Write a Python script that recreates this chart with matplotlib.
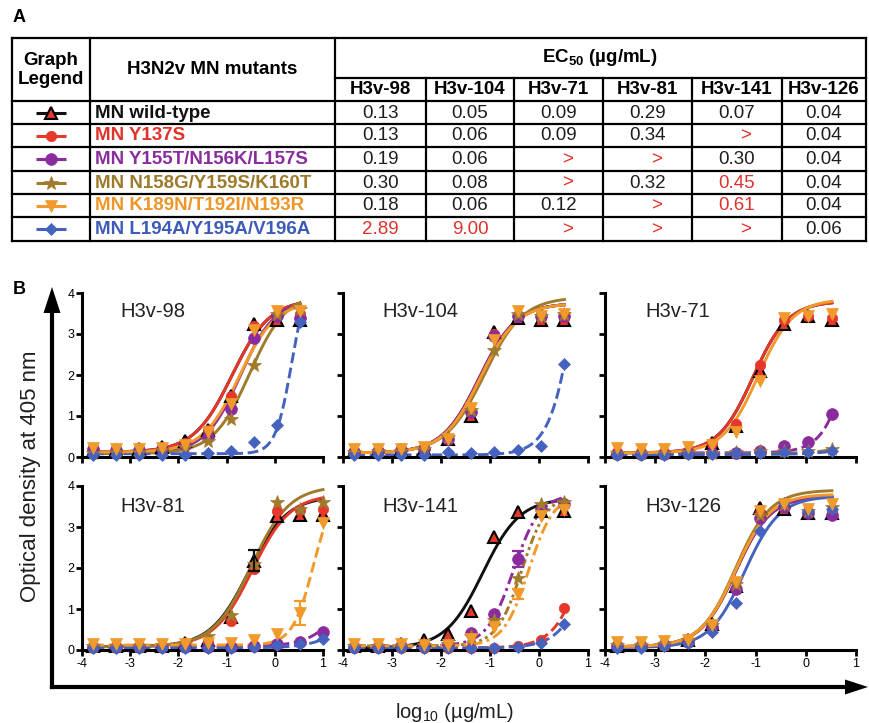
import numpy as np
import matplotlib.pyplot as plt

plt.rcParams['font.family'] = ['Liberation Sans', 'DejaVu Sans']
plt.rcParams['mathtext.fontset'] = 'custom'
plt.rcParams['mathtext.rm'] = 'Liberation Sans'
plt.rcParams['mathtext.bf'] = 'Liberation Sans:bold'
plt.rcParams['axes.unicode_minus'] = False

# ---- panel A : EC50 table ----
mutants = ['MN wild-type', 'MN Y137S', 'MN Y155T/N156K/L157S',
           'MN N158G/Y159S/K160T', 'MN K189N/T192I/N193R', 'MN L194A/Y195A/V196A']
antibodies = ['H3v-98', 'H3v-104', 'H3v-71', 'H3v-81', 'H3v-141', 'H3v-126']
ec50_text = [
    ['0.13', '0.05', '0.09', '0.29', '0.07', '0.04'],
    ['0.13', '0.06', '0.09', '0.34', '>', '0.04'],
    ['0.19', '0.06', '>', '>', '0.30', '0.04'],
    ['0.30', '0.08', '>', '0.32', '0.45', '0.04'],
    ['0.18', '0.06', '0.12', '>', '0.61', '0.04'],
    ['2.89', '9.00', '>', '>', '>', '0.06'],
]
ec50_flagged = [(3, 4), (4, 4), (5, 0), (5, 1)]

# ---- panel B : binding data (log10 ug/mL vs OD405) ----
logc = [-3.77, -3.29, -2.82, -2.34, -1.86, -1.39, -0.91, -0.43, 0.05, 0.52]
logc_81 = [-3.77, -3.29, -2.82, -2.34, -1.86, -1.39, -0.91, -0.43, 0.05, 0.52, 1.0]

# rows: wild-type, Y137S, Y155T.., N158G.., K189N.., L194A..
od_98 = [
    [0.15, 0.18, 0.20, 0.25, 0.40, 0.65, 1.50, 3.25, 3.35, 3.35],
    [0.15, 0.17, 0.18, 0.22, 0.35, 0.65, 1.50, 3.20, 3.45, 3.50],
    [0.20, 0.17, 0.18, 0.20, 0.30, 0.50, 1.18, 2.90, 3.45, 3.40],
    [0.10, 0.12, 0.13, 0.17, 0.25, 0.40, 0.93, 2.25, 3.50, 3.60],
    [0.22, 0.20, 0.20, 0.22, 0.30, 0.60, 1.30, 3.10, 3.55, 3.55],
    [0.05, 0.05, 0.04, 0.05, 0.06, 0.10, 0.14, 0.37, 0.77, 3.30],
]
od_104 = [
    [0.15, 0.15, 0.17, 0.20, 0.45, 1.00, 3.05, 3.40, 3.35, 3.35],
    [0.15, 0.15, 0.17, 0.20, 0.45, 1.10, 3.00, 3.45, 3.40, 3.40],
    [0.12, 0.15, 0.17, 0.20, 0.45, 1.10, 2.95, 3.45, 3.45, 3.45],
    [0.12, 0.14, 0.15, 0.20, 0.50, 1.15, 2.60, 3.50, 3.45, 3.50],
    [0.20, 0.20, 0.20, 0.25, 0.45, 1.20, 2.85, 3.55, 3.45, 3.50],
    [0.04, 0.04, 0.05, 0.05, 0.12, 0.10, 0.12, 0.18, 0.26, 2.28],
]
od_71 = [
    [0.15, 0.12, 0.12, 0.15, 0.33, 0.75, 2.10, 3.25, 3.45, 3.35],
    [0.12, 0.12, 0.12, 0.15, 0.35, 0.80, 2.25, 3.35, 3.45, 3.40],
    [0.08, 0.08, 0.08, 0.10, 0.10, 0.10, 0.15, 0.26, 0.37, 1.05],
    [0.10, 0.10, 0.10, 0.12, 0.10, 0.12, 0.15, 0.15, 0.15, 0.20],
    [0.22, 0.20, 0.20, 0.25, 0.30, 0.62, 1.85, 3.40, 3.45, 3.50],
    [0.06, 0.06, 0.06, 0.08, 0.08, 0.10, 0.10, 0.12, 0.12, 0.15],
]
od_81 = [
    [0.10, 0.10, 0.10, 0.10, 0.18, 0.25, 0.80, 2.18, 3.27, 3.30, 3.30],
    [0.08, 0.08, 0.08, 0.10, 0.15, 0.20, 0.70, 1.98, 3.39, 3.42, 3.45],
    [0.08, 0.08, 0.08, 0.08, 0.08, 0.07, 0.08, 0.10, 0.15, 0.20, 0.45],
    [0.10, 0.10, 0.10, 0.12, 0.15, 0.35, 0.85, 2.10, 3.60, 3.45, 3.60],
    [0.15, 0.15, 0.15, 0.15, 0.15, 0.16, 0.16, 0.24, 0.40, 0.90, 3.10],
    [0.04, 0.04, 0.04, 0.05, 0.05, 0.05, 0.06, 0.08, 0.12, 0.15, 0.28],
]
od_141 = [
    [0.10, 0.10, 0.15, 0.25, 0.40, 0.94, 2.76, 3.36, 3.40, 3.40],
    [0.05, 0.05, 0.05, 0.05, 0.05, 0.05, 0.06, 0.10, 0.25, 1.02],
    [0.08, 0.08, 0.10, 0.10, 0.15, 0.42, 0.88, 2.22, 3.44, 3.55],
    [0.10, 0.10, 0.10, 0.12, 0.15, 0.35, 0.72, 1.75, 3.55, 3.60],
    [0.15, 0.15, 0.15, 0.12, 0.12, 0.28, 0.56, 1.36, 3.28, 3.42],
    [0.04, 0.04, 0.04, 0.05, 0.05, 0.05, 0.06, 0.08, 0.16, 0.64],
]
od_126 = [
    [0.10, 0.12, 0.15, 0.24, 0.64, 1.55, 3.46, 3.45, 3.34, 3.35],
    [0.10, 0.12, 0.15, 0.22, 0.60, 1.50, 3.35, 3.50, 3.40, 3.40],
    [0.10, 0.10, 0.12, 0.20, 0.55, 1.50, 3.22, 3.50, 3.35, 3.30],
    [0.12, 0.12, 0.15, 0.25, 0.60, 1.60, 3.30, 3.55, 3.40, 3.50],
    [0.20, 0.20, 0.22, 0.25, 0.62, 1.67, 3.40, 3.55, 3.45, 3.55],
    [0.05, 0.06, 0.10, 0.18, 0.44, 1.15, 2.90, 3.58, 3.40, 3.45],
]

# 4-parameter logistic fits: (bottom, top, logEC50, hill)
fit_98 = [(0.12, 3.85, -0.89, 1.1), (0.12, 3.85, -0.89, 1.1), (0.10, 3.85, -0.72, 1.2),
          (0.08, 4.00, -0.52, 1.15), (0.12, 3.80, -0.74, 1.15), (0.08, 4.50, 0.35, 2.6)]
fit_104 = [(0.10, 3.75, -1.22, 1.15), (0.10, 3.75, -1.22, 1.15), (0.10, 3.75, -1.22, 1.15),
           (0.10, 3.90, -1.12, 1.1), (0.10, 3.75, -1.20, 1.15), (0.05, 12.3, 0.954, 1.5)]
fit_71 = [(0.10, 3.80, -1.05, 1.25), (0.10, 3.80, -1.05, 1.25), (0.10, 11.0, 1.2, 1.5),
          (0.08, 10.0, 2.5, 1.0), (0.10, 3.85, -0.95, 1.25), (0.06, 10.0, 2.6, 1.0)]
fit_81 = [(0.08, 3.75, -0.54, 1.1), (0.08, 3.80, -0.47, 1.1), (0.08, 10.0, 2.2, 1.1),
          (0.08, 4.00, -0.49, 1.1), (0.12, 4.00, 0.8, 2.0), (0.05, 10.0, 2.5, 1.1)]
fit_141 = [(0.05, 3.70, -1.15, 1.15), (0.05, 10.0, 1.3, 1.3), (0.10, 3.80, -0.52, 1.6),
           (0.10, 3.80, -0.35, 1.7), (0.10, 3.80, -0.21, 1.7), (0.05, 10.0, 1.45, 1.3)]
fit_126 = [(0.08, 3.75, -1.40, 1.25), (0.08, 3.75, -1.40, 1.25), (0.08, 3.75, -1.40, 1.25),
           (0.08, 3.90, -1.40, 1.25), (0.08, 3.80, -1.40, 1.25), (0.06, 3.75, -1.22, 1.25)]

# error bars: (panel, series, point, sd)
err_bars = [(3, 0, 7, 0.25), (3, 4, 9, 0.3), (4, 2, 7, 0.2), (4, 4, 7, 0.12)]

# styles
colors = ['#111111', '#e5382b', '#8a2c9e', '#a07b2c', '#f19a2b', '#4562bf']
text_colors = ['#111111', '#e0322a', '#8a2c9e', '#9c7a2a', '#ee962a', '#3e5bb8']
markers = ['^', 'o', 'o', '*', 'v', 'D']
msizes = [8, 7.5, 8.5, 10.5, 8.5, 6]
dd1 = (0, (4, 1.5, 1, 1.5))
dd2 = (0, (1, 1.2, 1, 1.2, 3, 1.2))
ls_98 = ['-', '-', '-', '-', '-', '--']
ls_104 = ['-', '-', '-', '-', '-', '--']
ls_71 = ['-', '-', '--', '--', '-', '--']
ls_81 = ['-', '-', '--', '-', '--', '--']
ls_141 = ['-', '--', dd1, dd2, dd1, '--']
ls_126 = ['-', '-', '-', '-', '-', '-']
draw_order = [0, 1, 2, 3, 5, 4]


def marker_kw(i):
    if i == 0:
        return dict(marker='^', ms=msizes[0], mfc='#e5382b', mec='black', mew=1.5)
    return dict(marker=markers[i], ms=msizes[i], mfc=colors[i], mec=colors[i], mew=0.5)


fig = plt.figure(figsize=(8.69, 7.23), dpi=100)
ov = fig.add_axes([0, 0, 1, 1])
ov.set_xlim(0, 869)
ov.set_ylim(723, 0)
ov.axis('off')

# ---- table drawing ----
xcols = [12, 90, 335, 426, 514, 603, 692, 782, 866]
yrows = [38, 78, 101, 124, 147, 171, 194, 217, 241]
tlw = 1.6
for x in [12, 90, 335, 866]:
    ov.plot([x, x], [38, 241], color='black', lw=tlw)
for x in xcols[3:-1]:
    ov.plot([x, x], [78, 241], color='black', lw=tlw)
ov.plot([12, 866], [38, 38], color='black', lw=tlw)
ov.plot([335, 866], [78, 78], color='black', lw=tlw)
for y in yrows[2:]:
    ov.plot([12, 866], [y, y], color='black', lw=tlw)

fs = 13.5
ov.text(19, 18, 'A', fontsize=13, fontweight='bold', ha='center', va='center')
ov.text(51, 70, 'Graph\nLegend', fontsize=fs, fontweight='bold', ha='center', va='center',
        linespacing=1.15)
ov.text(212, 69, 'H3N2v MN mutants', fontsize=fs, fontweight='bold', ha='center', va='center')
ov.text(600, 58, r'EC$_\mathregular{50}$ (µg/mL)', fontsize=fs, fontweight='bold',
        ha='center', va='center')
for j, ab in enumerate(antibodies):
    cx = (xcols[j + 2] + xcols[j + 3]) / 2
    ov.text(cx, 90, ab, fontsize=fs, fontweight='bold', ha='center', va='center')

for i, name in enumerate(mutants):
    cy = (yrows[i + 2] + yrows[i + 3]) / 2
    ov.plot([36, 66], [cy, cy], color=colors[i], lw=2.2, solid_capstyle='butt')
    ov.plot([51], [cy], ls='none', **marker_kw(i))
    ov.text(95, cy + 0.5, name, fontsize=fs, fontweight='bold', color=text_colors[i],
            ha='left', va='center')
    for j, val in enumerate(ec50_text[i]):
        cx = (xcols[j + 2] + xcols[j + 3]) / 2
        red = val == '>' or (i, j) in ec50_flagged
        if val == '>':
            cx += 9
        ov.text(cx, cy + 0.5, val, fontsize=fs, color='#e0322a' if red else '#1e1e1e',
                ha='center', va='center')

# ---- panel B frame ----
ov.text(19, 290, 'B', fontsize=13, fontweight='bold', ha='center', va='center')
ov.plot([52, 52], [687, 305], color='black', lw=3, solid_capstyle='projecting')
ov.fill([43.5, 60.5, 52], [313, 313, 287], color='black', lw=0)
ov.plot([52, 850], [687, 687], color='black', lw=3, solid_capstyle='projecting')
ov.fill([845, 845, 868], [679.5, 694.5, 687], color='black', lw=0)
ov.text(31, 476, 'Optical density at 405 nm', fontsize=16, rotation=90,
        ha='center', va='center', color='#1e1e1e')
ov.text(455, 712, r'log$_\mathregular{10}$ (µg/mL)', fontsize=14.5, ha='center',
        va='center', color='#1e1e1e')

panel_od = [od_98, od_104, od_71, od_81, od_141, od_126]
panel_fit = [fit_98, fit_104, fit_71, fit_81, fit_141, fit_126]
panel_ls = [ls_98, ls_104, ls_71, ls_81, ls_141, ls_126]
panel_x = [logc, logc, logc, logc_81, logc, logc]

col_left = [82, 343, 605]
col_w = [241, 245, 251]
row_zero = [457, 650]
row_h = 164

for p in range(6):
    r, c = divmod(p, 3)
    ax = fig.add_axes([col_left[c] / 869, 1 - row_zero[r] / 723,
                       col_w[c] / 869, row_h / 723])
    ax.patch.set_alpha(0)
    xs = np.array(panel_x[p])
    for i in draw_order:
        b, t, lec, h = panel_fit[p][i]
        xf = np.linspace(xs[0], xs[-1], 200)
        yf = b + (t - b) / (1 + 10 ** (h * (lec - xf)))
        ax.plot(xf, yf, color=colors[i], lw=2.1, ls=panel_ls[p][i], clip_on=False,
                zorder=2, dash_capstyle='butt')
    for i in draw_order:
        ax.plot(xs, panel_od[p][i], ls='none', clip_on=False, zorder=3, **marker_kw(i))
    for (pp, i, k, e) in err_bars:
        if pp == p:
            ax.errorbar(xs[k], panel_od[p][i][k], yerr=e, fmt='none', ecolor=colors[i],
                        elinewidth=1.6, capsize=4, capthick=1.6, zorder=3, clip_on=False)
    ax.set_xlim(-4, 1)
    ax.set_ylim(0, 4)
    ax.set_xticks([-4, -3, -2, -1, 0, 1])
    ax.set_yticks([0, 1, 2, 3, 4])
    for s in ['top', 'right']:
        ax.spines[s].set_visible(False)
    for s in ['left', 'bottom']:
        ax.spines[s].set_linewidth(2.2)
    ax.tick_params(width=2.0, length=4, labelsize=9, pad=1.5, colors='black')
    if r == 0:
        ax.set_xticklabels([])
    if c != 0:
        ax.set_yticklabels([])
    ax.text(0.16, 0.885 if r == 0 else 0.875, antibodies[p], transform=ax.transAxes,
            fontsize=14.5, ha='left', va='center', color='#222222')

fig.savefig('out.png', dpi=100)
